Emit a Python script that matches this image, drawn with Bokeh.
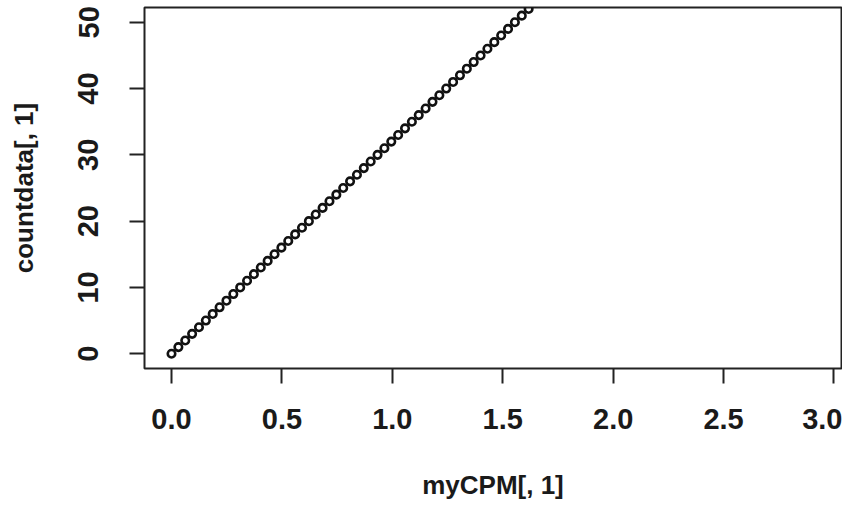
from bokeh.plotting import figure
from bokeh.models import Range1d, FixedTicker
from bokeh.embed import file_html
from bokeh.resources import INLINE

# Data: integer counts vs. CPM values
counts = [0, 1, 2, 3, 4, 5, 6, 7, 8, 9, 10, 11, 12, 13, 14, 15, 16, 17, 18, 19,
          20, 21, 22, 23, 24, 25, 26, 27, 28, 29, 30, 31, 32, 33, 34, 35, 36, 37,
          38, 39, 40, 41, 42, 43, 44, 45, 46, 47, 48, 49, 50, 51, 52, 53]
cpm = [0.0, 0.0311, 0.0622, 0.0933, 0.1244, 0.1555, 0.1866, 0.2177, 0.2488,
       0.2799, 0.311, 0.3421, 0.3732, 0.4043, 0.4354, 0.4665, 0.4976, 0.5287,
       0.5598, 0.5909, 0.622, 0.6531, 0.6842, 0.7153, 0.7464, 0.7775, 0.8086,
       0.8397, 0.8708, 0.9019, 0.933, 0.9641, 0.9952, 1.0263, 1.0574, 1.0885,
       1.1196, 1.1507, 1.1818, 1.2129, 1.244, 1.2751, 1.3062, 1.3373, 1.3684,
       1.3995, 1.4306, 1.4617, 1.4928, 1.5239, 1.555, 1.5861, 1.6172, 1.6483]

x_ticks = [0.0, 0.5, 1.0, 1.5, 2.0, 2.5, 3.0]
x_tick_labels = {0.0: "0.0", 0.5: "0.5", 1.0: "1.0", 1.5: "1.5",
                 2.0: "2.0", 2.5: "2.5", 3.0: "3.0"}
y_ticks = [0, 10, 20, 30, 40, 50]
x_title = "myCPM[, 1]"
y_title = "countdata[, 1]"

FONT = "Liberation Sans"

p = figure(width=842, height=502, output_backend="svg", toolbar_location=None,
           x_range=Range1d(-0.1223, 3.034), y_range=Range1d(-2.23, 52.23),
           min_border_left=144, min_border_right=1, min_border_top=7,
           min_border_bottom=132)

p.background_fill_color = "white"
p.border_fill_color = "white"
p.outline_line_color = "#222222"
p.outline_line_width = 2
p.grid.visible = False

p.scatter(cpm, counts, size=7.5, marker="circle", fill_color=None,
          line_color="#111111", line_width=2.6)

for ax in (p.xaxis[0], p.yaxis[0]):
    ax.axis_line_color = None
    ax.major_tick_in = 0
    ax.major_tick_out = 15
    ax.major_tick_line_width = 2
    ax.major_tick_line_color = "#222222"
    ax.minor_tick_line_color = None
    ax.major_label_text_font = FONT
    ax.major_label_text_font_size = "29px"
    ax.major_label_text_font_style = "bold"
    ax.major_label_text_color = "#1a1a1a"
    ax.axis_label_text_font = FONT
    ax.axis_label_text_font_size = "26px"
    ax.axis_label_text_font_style = "bold"
    ax.axis_label_text_color = "#1a1a1a"

p.xaxis.ticker = FixedTicker(ticks=x_ticks)
p.xaxis.major_label_overrides = x_tick_labels
p.xaxis.major_label_standoff = 25
p.xaxis.axis_label = x_title
p.xaxis.axis_label_standoff = 38

p.yaxis.ticker = FixedTicker(ticks=y_ticks)
p.yaxis.major_label_orientation = "vertical"
p.yaxis.major_label_standoff = 31
p.yaxis.axis_label = y_title
p.yaxis.axis_label_standoff = 37

open("out.html", "w").write(file_html(p, INLINE))
